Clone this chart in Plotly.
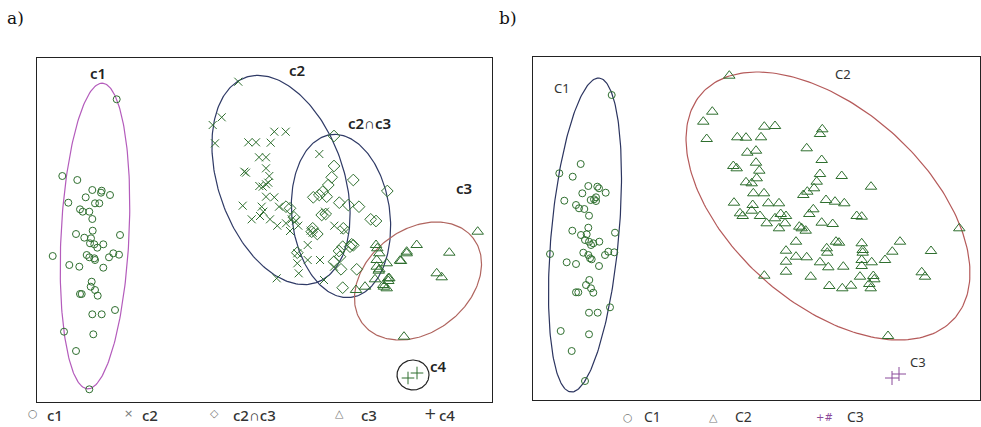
import numpy as np
import plotly.graph_objects as go

W, H = 981, 427

# ---------------- data (panel a) ----------------
c1_x = [116.7, 62.3, 77.3, 92.3, 101.7, 101.0, 110.0, 85.7, 68.3, 95.0, 99.3, 80.0, 82.7, 89.3, 92.3,
        92.7, 76.0, 84.3, 91.0, 120.0, 90.0, 94.3, 97.3, 103.3, 86.7, 89.3, 94.3, 95.0, 109.0, 113.3,
        119.0, 52.7, 69.3, 79.3, 103.3, 91.7, 90.7, 95.0, 81.7, 80.0, 97.7, 92.3, 101.7, 115.0, 64.0,
        93.3, 76.0, 89.3]
c1_y = [99.3, 176.0, 180.0, 190.0, 190.7, 192.7, 195.0, 197.3, 202.7, 203.3, 203.3, 209.3, 211.7, 211.7, 219.0,
        230.7, 234.0, 237.7, 238.3, 235.0, 243.3, 244.3, 247.7, 244.3, 255.0, 257.3, 258.3, 260.0, 257.3, 253.3,
        254.7, 256.0, 265.0, 266.7, 267.7, 281.7, 286.7, 290.0, 294.0, 294.0, 295.7, 314.3, 314.3, 310.0, 331.7,
        334.3, 351.0, 389.3]

c2_x = [238.3, 221.7, 212.7, 215.0, 274.3, 285.7, 248.3, 256.0, 270.7, 259.0, 266.0, 266.0, 244.3, 246.0,
        269.3, 268.3, 259.3, 262.7, 266.0, 319.3, 266.0, 274.3, 242.7, 261.7, 279.0, 263.3, 251.7, 270.0,
        260.0, 277.3, 286.0, 291.7, 290.0, 298.3, 296.0, 310.7, 312.7, 334.3, 344.3, 307.7, 297.3, 307.7,
        320.0, 297.3, 298.7, 334.0, 276.7, 324.0, 325.0]
c2_y = [81.7, 117.3, 125.0, 143.3, 131.7, 131.7, 142.3, 142.3, 142.7, 157.3, 157.3, 168.3, 171.7, 172.7,
        176.0, 182.7, 186.0, 186.7, 184.3, 154.0, 196.7, 197.3, 205.7, 206.7, 206.7, 211.7, 219.3, 219.3,
        216.0, 225.7, 223.3, 219.3, 231.0, 225.7, 220.7, 230.7, 232.7, 225.7, 230.0, 245.0, 253.3, 260.0,
        260.0, 263.3, 273.3, 266.7, 278.3, 280.0, 211.7]

c23_x = [334.0, 334.0, 331.7, 328.3, 353.3, 387.3, 322.7, 313.3, 319.3, 326.7, 339.3, 348.3, 359.0, 321.7,
         325.7, 312.7, 311.7, 317.3, 370.7, 376.0, 297.3, 339.0, 342.7, 351.7, 353.3, 341.0, 356.7, 342.7,
         334.0, 286.0, 290.0, 294.0, 343.3, 350.0, 340.0]
c23_y = [136.0, 166.0, 177.3, 185.0, 180.0, 191.0, 191.7, 197.3, 195.0, 196.7, 202.7, 205.0, 206.7, 215.0,
         214.0, 228.3, 231.7, 234.0, 219.3, 221.0, 252.7, 251.0, 246.7, 244.3, 245.3, 269.3, 269.3, 287.7,
         261.7, 206.7, 208.3, 217.3, 228.3, 246.7, 256.7]

c3_x = [477.7, 416.7, 406.7, 401.0, 449.3, 377.3, 379.3, 376.7, 386.7, 376.7, 379.3, 389.3, 388.3, 383.3,
        386.7, 375.0, 365.0, 356.0, 436.7, 441.7, 404.0, 376.0, 406.7, 400.0, 378.7, 388.3, 384.0]
c3_y = [231.7, 245.0, 253.3, 261.0, 252.7, 248.3, 253.3, 260.0, 263.3, 266.7, 269.3, 278.3, 281.0, 285.0,
        288.3, 279.3, 286.7, 290.0, 273.3, 277.3, 336.7, 245.0, 251.7, 260.7, 270.7, 278.3, 286.7]

c4_x = [408.0, 417.0]
c4_y = [378.0, 373.0]

# ---------------- data (panel b) ----------------
C1_x = [611.7, 580.7, 559.3, 572.7, 588.3, 597.3, 599.0, 605.7, 582.3, 596.0, 594.0, 590.7, 596.0, 564.3,
        576.0, 579.0, 584.3, 589.0, 588.3, 572.3, 581.0, 586.7, 585.0, 589.0, 593.3, 599.3, 591.0, 615.0,
        550.0, 583.3, 588.3, 590.0, 591.7, 605.0, 608.3, 614.3, 566.7, 576.0, 599.0, 589.3, 586.0, 591.0,
        578.3, 576.0, 593.3, 589.0, 597.7, 610.0, 560.7, 589.0, 571.7, 585.0]
C1_y = [95.0, 164.0, 173.3, 176.7, 186.0, 186.7, 188.3, 192.7, 193.3, 197.3, 199.3, 200.0, 201.0, 200.7,
        205.0, 208.3, 209.0, 215.7, 227.7, 230.7, 235.0, 234.3, 240.0, 241.7, 243.3, 241.7, 245.0, 232.7,
        254.0, 252.7, 255.0, 258.3, 259.3, 255.0, 251.7, 252.3, 262.3, 264.0, 266.0, 280.0, 285.0, 288.3,
        292.3, 292.3, 292.7, 312.7, 312.7, 307.3, 331.0, 334.3, 351.0, 381.0]

C2_x = [729.3, 712.3, 703.3, 706.7, 764.3, 775.0, 737.3, 746.0, 761.0, 822.3, 820.0, 806.7, 747.3, 756.0,
        821.7, 756.0, 733.3, 736.7, 759.3, 820.0, 841.7, 756.7, 746.0, 751.7, 816.7, 814.0, 871.0, 807.3,
        803.3, 753.3, 764.0, 734.0, 752.7, 768.3, 779.0, 826.0, 835.0, 844.3, 751.7, 740.0, 742.7, 760.0,
        780.7, 786.0, 775.0, 813.3, 809.3, 856.7, 861.7, 766.7, 785.0, 821.7, 832.7, 779.0, 799.3, 801.7,
        805.7, 959.3, 796.0, 836.0, 839.0, 861.7, 900.0, 786.0, 826.7, 827.3, 862.7, 862.7, 892.3, 931.0,
        796.0, 806.7, 786.0, 820.0, 828.3, 843.3, 861.7, 861.7, 871.7, 885.0, 786.0, 764.3, 810.7, 860.0,
        873.3, 874.3, 921.7, 925.0, 829.3, 842.3, 851.0, 869.3, 870.7, 888.0]
C2_y = [75.7, 111.7, 121.7, 139.0, 126.7, 126.0, 137.3, 137.7, 137.3, 129.3, 134.0, 148.3, 152.7, 150.7,
        160.0, 162.7, 166.0, 168.3, 170.7, 174.0, 176.0, 178.3, 182.3, 183.3, 181.7, 188.3, 186.7, 191.7,
        195.0, 193.3, 193.3, 202.7, 205.0, 203.3, 203.3, 200.0, 201.7, 203.3, 210.7, 213.3, 216.0, 216.0,
        214.0, 216.0, 218.3, 209.3, 214.0, 216.0, 216.7, 223.3, 223.3, 222.7, 224.0, 228.3, 226.7, 228.3,
        230.7, 228.3, 241.7, 241.7, 242.7, 243.3, 241.7, 250.7, 248.3, 252.7, 250.0, 252.7, 251.7, 251.0,
        256.7, 257.3, 261.7, 262.3, 267.3, 266.7, 260.0, 266.0, 262.3, 260.0, 271.7, 275.7, 276.7, 276.7,
        276.0, 279.3, 272.3, 276.7, 286.0, 288.3, 285.7, 284.0, 288.3, 336.0]

C3_x = [892.0, 899.0]
C3_y = [378.0, 374.0]

# ellipse outlines: centre, semi-axes, rotation (deg)
ellipses_a = [
    dict(name="c1", cx=95, cy=236, a=153, b=34, th=-87.2, color="#b45cbc"),
    dict(name="c2", cx=281, cy=180, a=108.5, b=62.8, th=71.0, color="#2f3a66"),
    dict(name="c2∩c3", cx=341, cy=216, a=82, b=49, th=83.0, color="#2f3a66"),
    dict(name="c3", cx=418, cy=281, a=69.9, b=51.3, th=-37.9, color="#b0655f"),
    dict(name="c4", cx=413, cy=375, a=16, b=15, th=0.0, color="#222222"),
]
ellipses_b = [
    dict(name="C1", cx=585, cy=235, a=157.6, b=33.8, th=-84.85, color="#2c3560"),
    dict(name="C2", cx=828, cy=206, a=169.2, b=97.4, th=41.7, color="#b55a5a"),
]

GREEN = "#2f6f2f"


def ellipse_xy(e, n=240):
    t = np.linspace(0, 2 * np.pi, n)
    th = np.deg2rad(e["th"])
    x = e["cx"] + e["a"] * np.cos(t) * np.cos(th) - e["b"] * np.sin(t) * np.sin(th)
    y = e["cy"] + e["a"] * np.cos(t) * np.sin(th) + e["b"] * np.sin(t) * np.cos(th)
    return x, y


fig = go.Figure()

for e in ellipses_a:
    x, y = ellipse_xy(e)
    fig.add_trace(go.Scatter(x=x, y=y, mode="lines", line=dict(color=e["color"], width=1.2),
                             xaxis="x", yaxis="y", showlegend=False, hoverinfo="skip"))
for e in ellipses_b:
    x, y = ellipse_xy(e)
    fig.add_trace(go.Scatter(x=x, y=y, mode="lines", line=dict(color=e["color"], width=1.2),
                             xaxis="x2", yaxis="y2", showlegend=False, hoverinfo="skip"))


def pts(x, y, sym, size, ax, color=GREEN):
    fig.add_trace(go.Scatter(x=x, y=y, mode="markers", xaxis=ax[0], yaxis=ax[1], showlegend=False,
                             marker=dict(symbol=sym, size=size, color=color,
                                         line=dict(color=color, width=1))))


pts(c1_x, c1_y, "circle-open", 7, ("x", "y"))
pts(c2_x, c2_y, "x-thin", 8, ("x", "y"))
pts(c23_x, c23_y, "diamond-open", 9, ("x", "y"))
pts(c3_x, c3_y, "triangle-up-open", 10, ("x", "y"))
pts(c4_x, c4_y, "cross-thin", 9, ("x", "y"))
pts(C1_x, C1_y, "circle-open", 7, ("x2", "y2"))
pts(C2_x, C2_y, "triangle-up-open", 10, ("x2", "y2"))
pts(C3_x, C3_y, "cross-thin", 10, ("x2", "y2"), color="#8a4a9a")

ax_common = dict(showgrid=False, zeroline=False, showticklabels=False, ticks="",
                 showline=True, linecolor="#222", linewidth=1.3, mirror=True, fixedrange=True)

fig.update_layout(
    width=W, height=H, margin=dict(l=0, r=0, t=0, b=0),
    paper_bgcolor="white", plot_bgcolor="white",
    xaxis=dict(domain=[37 / W, 492 / W], range=[37, 492], **ax_common),
    yaxis=dict(domain=[1 - 402 / H, 1 - 58 / H], range=[402, 58], **ax_common),
    xaxis2=dict(domain=[533 / W, 980 / W], range=[533, 980], anchor="y2", **ax_common),
    yaxis2=dict(domain=[1 - 400 / H, 1 - 57 / H], range=[400, 57], anchor="x2", **ax_common),
    showlegend=False,
)

LBL = "Noto Sans"
# cluster labels inside the panels
for txt, x, y in [("c1", 98, 73), ("c2", 297, 70), ("c2∩c3", 369, 123), ("c3", 464, 188), ("c4", 438, 366)]:
    fig.add_annotation(x=x, y=y, xref="x", yref="y", text=txt, showarrow=False,
                       xanchor="center", yanchor="middle",
                       font=dict(family=LBL, size=15, color="#222", weight=600))
for txt, x, y in [("C1", 562, 88), ("C2", 843, 74), ("C3", 918, 362)]:
    fig.add_annotation(x=x, y=y, xref="x2", yref="y2", text=txt, showarrow=False,
                       xanchor="center", yanchor="middle",
                       font=dict(family=LBL, size=13, color="#333"))


def px(x):
    return x / W


def py(y):
    return 1 - y / H


def note(text, x, y, size, color, family, xanchor="center", weight=400):
    fig.add_annotation(x=px(x), y=py(y), xref="paper", yref="paper", text=text, showarrow=False,
                       xanchor=xanchor, yanchor="middle",
                       font=dict(family=family, size=size, color=color, weight=weight))


# panel captions
note("a)", 5, 18, 17, "#111", "DejaVu Serif", "left")
note("b)", 497, 18, 17, "#111", "DejaVu Serif", "left")

# legends
leg_a = [("○", 33, "c1", 45), ("×", 128, "c2", 140), ("◇", 214, "c2∩c3", 231), ("△", 339, "c3", 359),
         ("+", 430, "c4", 437)]
leg_b = [("○", 628, "C1", 642), ("△", 713, "C2", 733), ("+#", 824, "C3", 845)]
for sym, sx, txt, tx in leg_a:
    if sym == "+":
        note(sym, sx, 414, 15, "#333", "DejaVu Sans")
    else:
        note(sym, sx, 413, 11, "#777", "DejaVu Sans")
    note(txt, tx, 415, 15, "#333", LBL, "left", 500)
for sym, sx, txt, tx in leg_b:
    if sym == "+#":
        note(sym, sx, 417, 10, "#8a4a9a", "DejaVu Sans")
    else:
        note(sym, sx, 417, 11, "#777", "DejaVu Sans")
    note(txt, tx, 416, 14, "#333", LBL, "left")

fig.write_html("out.html", config={"displayModeBar": False},
               post_script="document.body.style.margin='0';")
